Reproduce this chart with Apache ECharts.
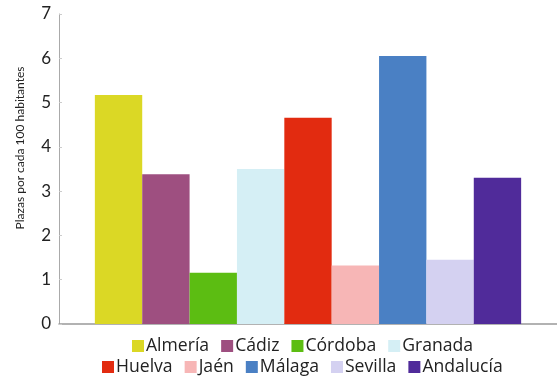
<!DOCTYPE html>
<html>
<head>
<meta charset="utf-8">
<script src="https://cdn.jsdelivr.net/npm/echarts@6/dist/echarts.min.js"></script>
<style>
html,body{margin:0;padding:0;background:#fff;}
#c{width:557px;height:380px;}
</style>
</head>
<body>
<div id="c"></div>
<script>
const provinces = ['Almería','Cádiz','Córdoba','Granada','Huelva','Jaén','Málaga','Sevilla','Andalucía'];
const values = [5.17, 3.38, 1.16, 3.50, 4.66, 1.32, 6.05, 1.45, 3.30];
const colors = ['#dbd825','#9e4f80','#5cbd12','#d5eff5','#e22b10','#f7b6b6','#4a80c4','#d4d1f1','#502b9a'];
const yTicks = [0,1,2,3,4,5,6,7];
const yName = 'Plazas por cada 100 habitantes';
const legendRow1 = provinces.slice(0,4);
const legendRow2 = provinces.slice(4);

const chart = echarts.init(document.getElementById('c'));
const font = 'Lato, "Open Sans", sans-serif';
const legendFont = '"Open Sans", sans-serif';
const legendBase = {
  itemWidth:12,itemHeight:12,itemGap:12,
  icon:'rect',
  textStyle:{fontFamily:legendFont,fontSize:17.6,color:'#222',padding:[0,0,0,-3]},
  padding:0
};
chart.setOption({
  animation:false,
  grid:{left:59,right:0,top:14,bottom:56,containLabel:false,outerBoundsMode:'none'},
  legend:[
    Object.assign({data:legendRow1, top:337, left:132}, legendBase),
    Object.assign({data:legendRow2, top:358, left:102}, legendBase)
  ],
  graphic:[{
    type:'text',
    x:20,y:148,
    rotation:Math.PI/2,
    style:{text:yName,fontFamily:font,fontSize:12,fill:'#222',align:'center',verticalAlign:'middle'}
  }],
  xAxis:{
    type:'category',
    data:[''],
    axisLine:{lineStyle:{color:'#999',width:1.5}},
    axisTick:{show:false},
    axisLabel:{show:false}
  },
  yAxis:{
    type:'value',
    min:yTicks[0],max:yTicks[yTicks.length-1],interval:1,
    axisLine:{show:true,lineStyle:{color:'#aaa',width:1}},
    axisTick:{show:true,inside:true,length:3,lineStyle:{color:'#ccc'}},
    splitLine:{show:false},
    axisLabel:{fontFamily:font,fontSize:17,color:'#222',margin:8}
  },
  series:provinces.map((p,i)=>({
    name:p,
    type:'bar',
    data:[values[i]],
    itemStyle:{color:colors[i]},
    barGap:'0%',
    barCategoryGap:'14.4%'
  }))
});
</script>
</body>
</html>
